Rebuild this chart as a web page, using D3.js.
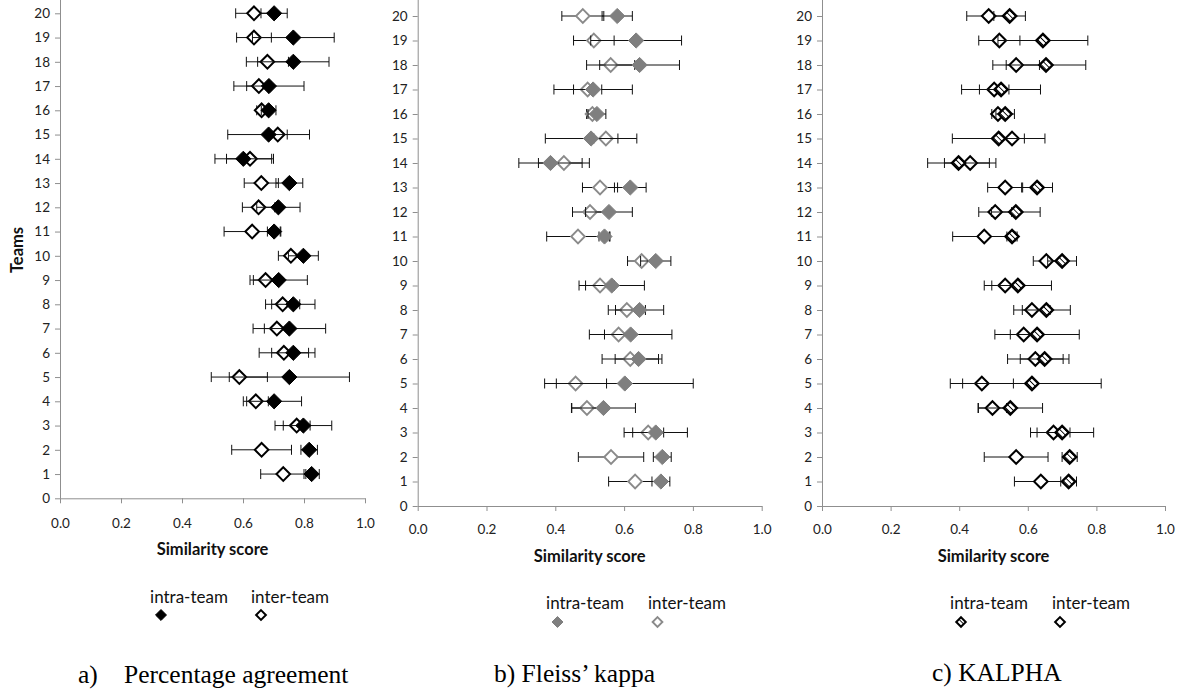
<!DOCTYPE html>
<html>
<head>
<meta charset="utf-8">
<script src="https://cdn.jsdelivr.net/npm/d3@7"></script>
<style>
  body { margin: 0; background: #fff; }
  svg { display: block; }
</style>
</head>
<body>
<svg id="chart" width="1184" height="693"></svg>
<script>
// Team numbers and axis ticks
const teams = [1, 2, 3, 4, 5, 6, 7, 8, 9, 10, 11, 12, 13, 14, 15, 16, 17, 18, 19, 20];
const yTicks = [0, 1, 2, 3, 4, 5, 6, 7, 8, 9, 10, 11, 12, 13, 14, 15, 16, 17, 18, 19, 20];
const xTicks = [0, 0.2, 0.4, 0.6, 0.8, 1.0];
const seriesNames = ["intra-team", "inter-team"];

// a) Percentage agreement: mean similarity and error (±) per team
const pctIntra    = [0.825, 0.817, 0.798, 0.702, 0.752, 0.765, 0.752, 0.765, 0.717, 0.798,
                     0.702, 0.716, 0.752, 0.601, 0.684, 0.684, 0.685, 0.765, 0.765, 0.702];
const pctIntraErr = [0.025, 0.027, 0.093, 0.090, 0.197, 0.071, 0.119, 0.071, 0.094, 0.049,
                     0.022, 0.071, 0.044, 0.093, 0.134, 0.024, 0.115, 0.117, 0.134, 0.043];
const pctInter    = [0.732, 0.661, 0.776, 0.642, 0.588, 0.734, 0.711, 0.730, 0.674, 0.757,
                     0.630, 0.651, 0.660, 0.623, 0.714, 0.661, 0.652, 0.680, 0.636, 0.636];
const pctInterErr = [0.074, 0.098, 0.044, 0.041, 0.092, 0.081, 0.041, 0.056, 0.040, 0.041,
                     0.092, 0.053, 0.056, 0.077, 0.031, 0.016, 0.040, 0.069, 0.057, 0.060];

// b) Fleiss' kappa
const fkIntra    = [0.707, 0.711, 0.692, 0.540, 0.602, 0.642, 0.619, 0.645, 0.564, 0.692,
                    0.543, 0.556, 0.618, 0.386, 0.504, 0.521, 0.510, 0.645, 0.635, 0.580];
const fkIntraErr = [0.026, 0.026, 0.092, 0.093, 0.199, 0.068, 0.120, 0.070, 0.095, 0.044,
                    0.016, 0.068, 0.046, 0.092, 0.133, 0.026, 0.114, 0.116, 0.132, 0.044];
const fkInter    = [0.632, 0.562, 0.670, 0.492, 0.459, 0.618, 0.584, 0.608, 0.530, 0.651,
                    0.466, 0.501, 0.530, 0.425, 0.547, 0.508, 0.494, 0.561, 0.512, 0.480];
const fkInterErr = [0.077, 0.095, 0.045, 0.044, 0.090, 0.082, 0.041, 0.054, 0.042, 0.041,
                    0.091, 0.051, 0.051, 0.074, 0.035, 0.017, 0.041, 0.070, 0.059, 0.061];

// c) KALPHA
const kaIntra    = [0.719, 0.722, 0.700, 0.549, 0.612, 0.649, 0.627, 0.654, 0.571, 0.700,
                    0.554, 0.565, 0.627, 0.398, 0.515, 0.534, 0.522, 0.653, 0.644, 0.547];
const kaIntraErr = [0.023, 0.022, 0.092, 0.094, 0.202, 0.071, 0.123, 0.070, 0.098, 0.042,
                    0.015, 0.071, 0.045, 0.090, 0.135, 0.027, 0.115, 0.116, 0.131, 0.046];
const kaInter    = [0.638, 0.566, 0.675, 0.497, 0.466, 0.622, 0.588, 0.612, 0.534, 0.654,
                    0.473, 0.505, 0.534, 0.432, 0.554, 0.513, 0.502, 0.566, 0.517, 0.486];
const kaInterErr = [0.077, 0.093, 0.048, 0.041, 0.092, 0.081, 0.039, 0.053, 0.039, 0.038,
                    0.092, 0.048, 0.051, 0.075, 0.036, 0.018, 0.043, 0.068, 0.060, 0.064];

const svg = d3.select("#chart");
const FONT = "Lato, 'Open Sans', sans-serif";
const SERIF = "'Liberation Serif', 'Times New Roman', serif";

// hatch used for the KALPHA intra-team markers
const defs = svg.append("defs");
defs.append("pattern")
  .attr("id", "hatch")
  .attr("patternUnits", "userSpaceOnUse")
  .attr("width", 3.6).attr("height", 3.6)
  .attr("patternTransform", "rotate(-45)")
  .call(p => {
    p.append("rect").attr("width", 3.6).attr("height", 3.6).attr("fill", "#fff");
    p.append("line").attr("x1", 0).attr("y1", 0).attr("x2", 0).attr("y2", 3.6)
      .attr("stroke", "#000").attr("stroke-width", 1.8);
  });

const diamond = r => `M0,${-r}L${r},0L0,${r}L${-r},0Z`;

const panels = [
  {
    x0: 60, x1: 365, yBase: 498.3, step: 24.25,
    intra: pctIntra, intraErr: pctIntraErr, inter: pctInter, interErr: pctInterErr,
    intraStyle: { fill: "#000", stroke: "#000", sw: 1, r: 7.6 },
    interStyle: { fill: "#fff", stroke: "#000", sw: 2, r: 6.8 },
    tickLabelY: 523, titleY: 549, legendY: 596, markerY: 615,
    legendText: [189, 290], legendMarker: [161, 261],
    showTeams: true,
    caption: [{ text: "a)", x: 78 }, { text: "Percentage agreement", x: 124 }], captionY: 683
  },
  {
    x0: 417.7, x1: 761.7, yBase: 506, step: 24.5,
    intra: fkIntra, intraErr: fkIntraErr, inter: fkInter, interErr: fkInterErr,
    intraStyle: { fill: "#7f7f7f", stroke: "#7f7f7f", sw: 1, r: 7.6 },
    interStyle: { fill: "#fff", stroke: "#8a8a8a", sw: 1.9, r: 6.8 },
    tickLabelY: 529, titleY: 556, legendY: 602, markerY: 622,
    legendText: [585, 687], legendMarker: [557.5, 657.5],
    showTeams: false,
    caption: [{ text: "b) Fleiss\u2019 kappa", x: 494 }], captionY: 682
  },
  {
    x0: 822, x1: 1165, yBase: 506, step: 24.5,
    intra: kaIntra, intraErr: kaIntraErr, inter: kaInter, interErr: kaInterErr,
    intraStyle: { fill: "url(#hatch)", stroke: "#000", sw: 2.4, r: 6.6 },
    interStyle: { fill: "#fff", stroke: "#000", sw: 2, r: 6.8 },
    tickLabelY: 529, titleY: 556, legendY: 602, markerY: 622,
    legendText: [989, 1091], legendMarker: [961, 1060],
    showTeams: false,
    caption: [{ text: "c) KALPHA", x: 932 }], captionY: 681
  }
];

panels.forEach(p => {
  const x = d3.scaleLinear().domain([0, 1]).range([p.x0, p.x1]);
  const y = d3.scaleLinear().domain([0, 21]).range([p.yBase, p.yBase - 21 * p.step]);
  const g = svg.append("g");

  // y axis (teams)
  const yAxis = g.append("g")
    .attr("transform", `translate(${p.x0},0)`)
    .call(d3.axisLeft(y).tickValues(yTicks).tickFormat(d3.format("d"))
      .tickSize(5).tickSizeOuter(0).tickPadding(5));
  // x axis (similarity score)
  const xAxis = g.append("g")
    .attr("transform", `translate(0,${p.yBase})`)
    .call(d3.axisBottom(x).tickValues(xTicks).tickFormat(d3.format(".1f"))
      .tickSize(5).tickSizeOuter(0).tickPadding(0));
  [yAxis, xAxis].forEach(ax => {
    ax.selectAll("path.domain").attr("stroke", "#8f8f8f").attr("stroke-width", 1);
    ax.selectAll(".tick line").attr("stroke", "#8f8f8f");
    ax.selectAll("text").attr("font-family", FONT).attr("font-size", 13.5).attr("fill", "#222");
  });
  xAxis.selectAll("text").attr("dy", null)
    .attr("y", p.tickLabelY - p.yBase).attr("dominant-baseline", "central");

  // axis titles
  g.append("text")
    .attr("x", (p.x0 + p.x1) / 2).attr("y", p.titleY)
    .attr("text-anchor", "middle").attr("dominant-baseline", "central")
    .attr("font-family", FONT).attr("font-weight", "bold").attr("font-size", 16.5)
    .attr("fill", "#111").text("Similarity score");
  if (p.showTeams) {
    g.append("text")
      .attr("transform", `translate(17,250) rotate(-90)`)
      .attr("text-anchor", "middle").attr("dominant-baseline", "central")
      .attr("font-family", FONT).attr("font-weight", "bold").attr("font-size", 16.5)
      .attr("fill", "#111").text("Teams");
  }

  // error bars + markers: inter-team first, intra-team on top
  const series = [
    { vals: p.inter, errs: p.interErr, style: p.interStyle },
    { vals: p.intra, errs: p.intraErr, style: p.intraStyle }
  ];
  series.forEach(s => {
    const rows = teams.map((t, i) => ({ t, v: s.vals[i], e: s.errs[i] }));
    const eb = g.append("g").attr("stroke", "#111").attr("stroke-width", 1);
    eb.selectAll("line.bar").data(rows).join("line").attr("class", "bar")
      .attr("x1", d => x(d.v - d.e)).attr("x2", d => x(d.v + d.e))
      .attr("y1", d => y(d.t)).attr("y2", d => y(d.t));
    eb.selectAll("line.capL").data(rows).join("line").attr("class", "capL")
      .attr("x1", d => x(d.v - d.e)).attr("x2", d => x(d.v - d.e))
      .attr("y1", d => y(d.t) - 5).attr("y2", d => y(d.t) + 5);
    eb.selectAll("line.capR").data(rows).join("line").attr("class", "capR")
      .attr("x1", d => x(d.v + d.e)).attr("x2", d => x(d.v + d.e))
      .attr("y1", d => y(d.t) - 5).attr("y2", d => y(d.t) + 5);
    g.append("g").selectAll("path").data(rows).join("path")
      .attr("transform", d => `translate(${x(d.v)},${y(d.t)})`)
      .attr("d", diamond(s.style.r))
      .attr("fill", s.style.fill).attr("stroke", s.style.stroke)
      .attr("stroke-width", s.style.sw).attr("stroke-linejoin", "miter");
  });

  // legend
  const legStyles = [p.intraStyle, p.interStyle];
  seriesNames.forEach((name, i) => {
    g.append("text")
      .attr("x", p.legendText[i]).attr("y", p.legendY)
      .attr("text-anchor", "middle").attr("dominant-baseline", "central")
      .attr("font-family", FONT).attr("font-size", 17).attr("fill", "#111")
      .text(name);
    const st = legStyles[i];
    g.append("path")
      .attr("transform", `translate(${p.legendMarker[i]},${p.markerY})`)
      .attr("d", diamond(st.r * 0.72))
      .attr("fill", st.fill).attr("stroke", st.stroke)
      .attr("stroke-width", Math.min(st.sw, 2));
  });

  // panel caption
  p.caption.forEach(c => {
    g.append("text")
      .attr("x", c.x).attr("y", p.captionY)
      .attr("font-family", SERIF).attr("font-size", 25.5).attr("fill", "#000")
      .text(c.text);
  });
});
</script>
</body>
</html>
